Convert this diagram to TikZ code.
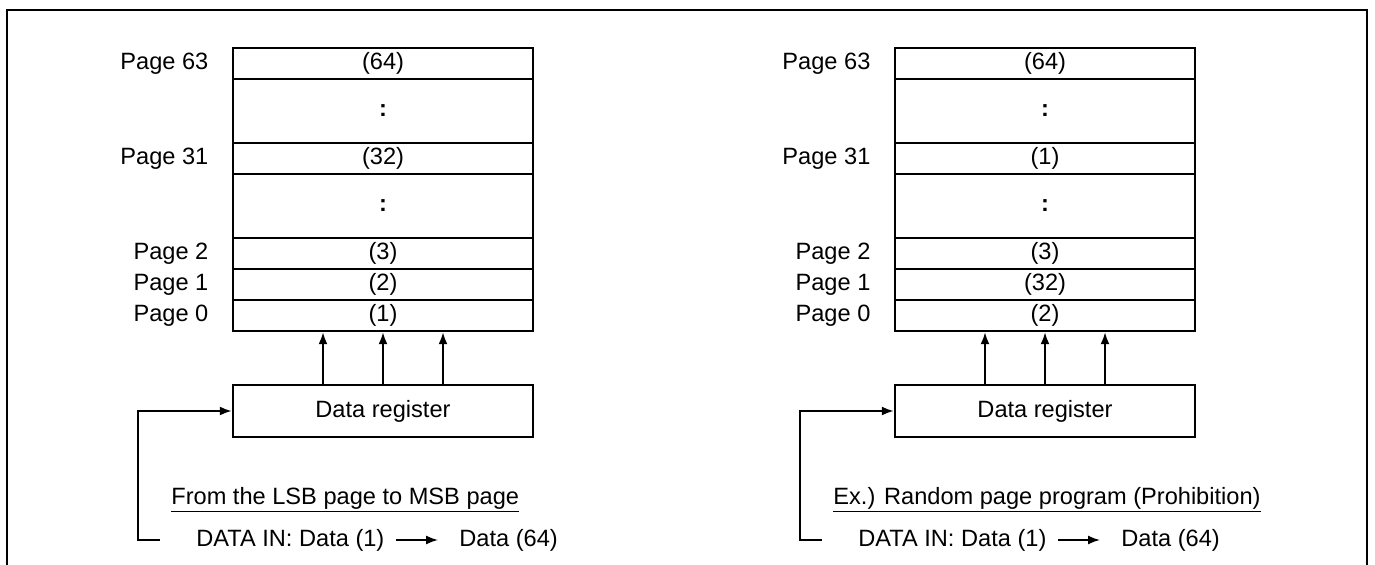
\documentclass[tikz,border=0pt]{standalone}
\usepackage{fontspec}
\setmainfont{Liberation Sans}
\usetikzlibrary{arrows.meta, positioning, calc}

\begin{document}
\begin{tikzpicture}[
  x=0.5pt, y=-0.5pt,
  every node/.style={font=\fontsize{11.8pt}{14pt}\selectfont},
  page/.style={draw, line width=1.2pt, minimum width=150pt, minimum height=15.5pt, inner sep=0pt},
  gap/.style={page, minimum height=32pt},
  lbl/.style={anchor=east, inner sep=0pt},
  reg/.style={draw, line width=1.2pt, minimum width=150pt, minimum height=26pt, inner sep=0pt},
  flow/.style={-{Latex[length=6pt,width=4.5pt]}, line width=1pt},
  note/.style={anchor=west, inner sep=0pt}
]
  \useasboundingbox (0,0) rectangle (1375,565);
  \draw[line width=1.1pt] (7,565) |- (1367,10) -- (1367,565);

  % LSB to MSB order
  \node[page] (topL) at (383,63.5) {(64)};
  \node[gap] (dotsAL) at (383,111) {\textbf{:}};
  \node[page] (midL) at (383,158.5) {(32)};
  \node[gap] (dotsBL) at (383,206) {\textbf{:}};
  \node[page] (p2L) at (383,253.5) {(3)};
  \node[page] (p1L) at (383,284.5) {(2)};
  \node[page] (p0L) at (383,315.5) {(1)};

  \node[lbl, left=11.5pt of topL] (l63L) {Page 63};
  \node[lbl, left=11.5pt of midL] (l31L) {Page 31};
  \node[lbl, left=11.5pt of p2L] (l2L) {Page 2};
  \node[lbl, left=11.5pt of p1L] (l1L) {Page 1};
  \node[lbl, left=11.5pt of p0L] (l0L) {Page 0};

  \node[reg] (regL) at (383,411) {Data register};
  \foreach \dx in {-30pt,0pt,30pt}
    \draw[flow] ([xshift=\dx]regL.north) -- ([xshift=\dx]p0L.south);

  \node[note] (capL) at (171,500) {\underline{From the LSB page to MSB page}};
  \node[note] (dinL) at (196,540) {DATA IN: Data (1)};
  \node[note] (doutL) at (459,540) {Data (64)};
  \draw[flow, line width=0.8pt, shorten <=5.5pt, shorten >=10.5pt] (dinL.east) -- (doutL.west);
  \coordinate (fbL) at (160,540);
  \draw[flow] (fbL) -- ++(-22,0) |- (regL.west);

  % random order (prohibited)
  \begin{scope}[xshift=331pt]
    \node[page] (topR) at (383,63.5) {(64)};
    \node[gap] (dotsAR) at (383,111) {\textbf{:}};
    \node[page] (midR) at (383,158.5) {(1)};
    \node[gap] (dotsBR) at (383,206) {\textbf{:}};
    \node[page] (p2R) at (383,253.5) {(3)};
    \node[page] (p1R) at (383,284.5) {(32)};
    \node[page] (p0R) at (383,315.5) {(2)};

    \node[lbl, left=11.5pt of topR] (l63R) {Page 63};
    \node[lbl, left=11.5pt of midR] (l31R) {Page 31};
    \node[lbl, left=11.5pt of p2R] (l2R) {Page 2};
    \node[lbl, left=11.5pt of p1R] (l1R) {Page 1};
    \node[lbl, left=11.5pt of p0R] (l0R) {Page 0};

    \node[reg] (regR) at (383,411) {Data register};
    \foreach \dx in {-30pt,0pt,30pt}
      \draw[flow] ([xshift=\dx]regR.north) -- ([xshift=\dx]p0R.south);

    \node[note] (capR) at (171,500) {\underline{Ex.) Random page program (Prohibition)}};
    \node[note] (dinR) at (196,540) {DATA IN: Data (1)};
    \node[note] (doutR) at (459,540) {Data (64)};
    \draw[flow, line width=0.8pt, shorten <=5.5pt, shorten >=10.5pt] (dinR.east) -- (doutR.west);
    \coordinate (fbR) at (160,540);
    \draw[flow] (fbR) -- ++(-22,0) |- (regR.west);
  \end{scope}
\end{tikzpicture}
\end{document}
